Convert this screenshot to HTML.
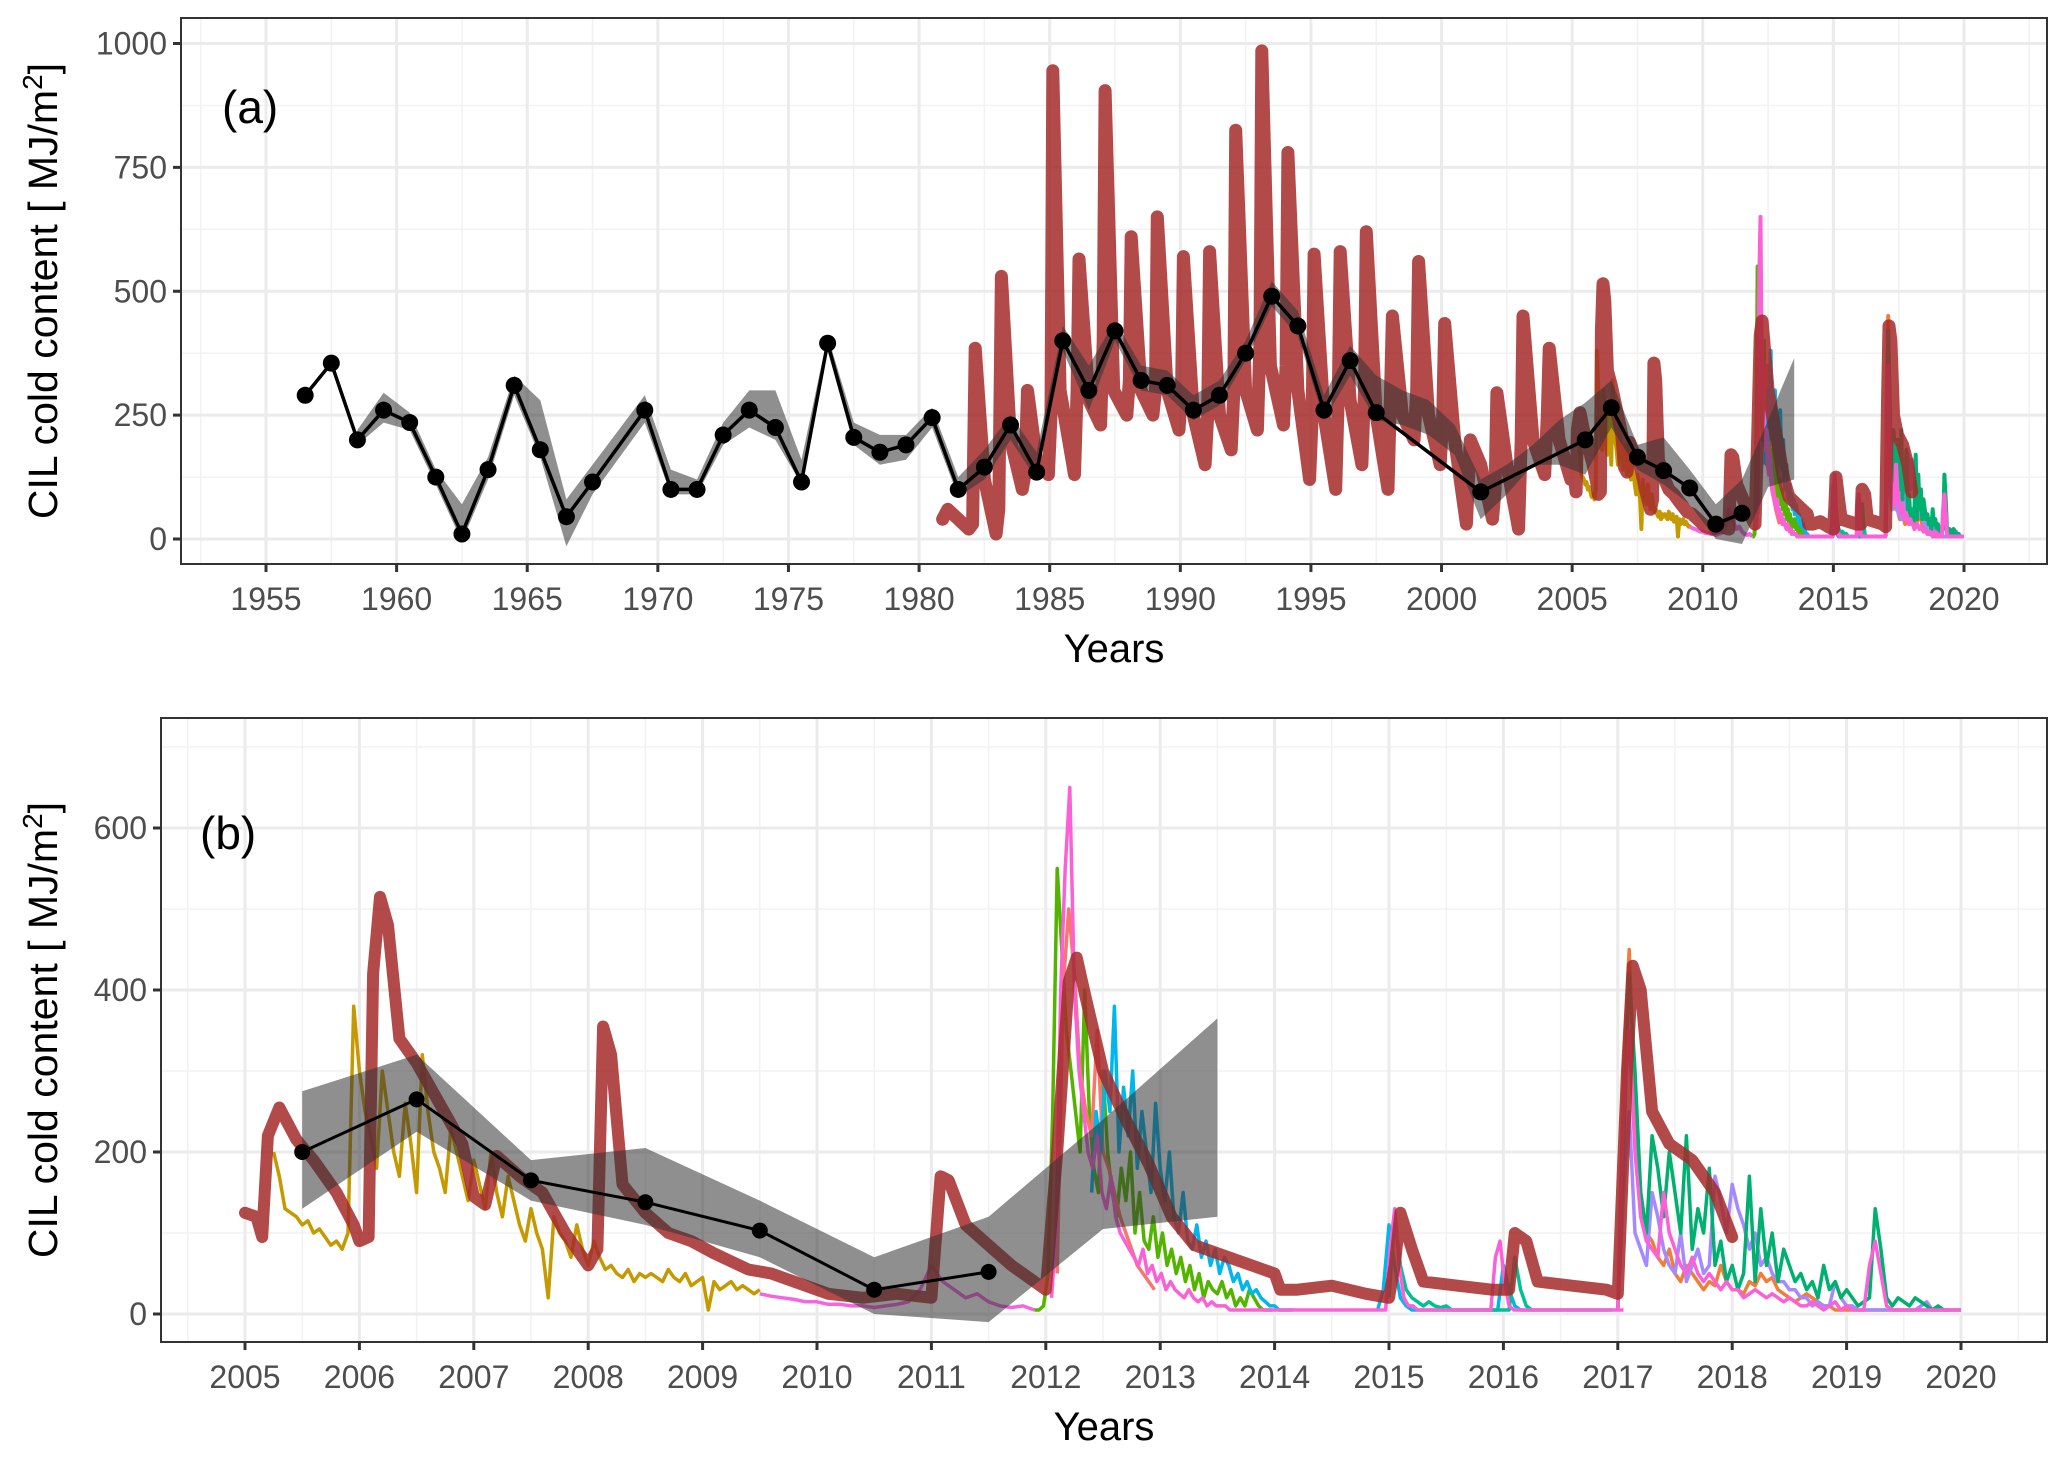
<!DOCTYPE html>
<html><head><meta charset="utf-8"><style>
html,body{margin:0;padding:0;background:#fff;}
svg{display:block;font-family:"Liberation Sans",sans-serif;}
</style></head><body>
<svg id="chart" width="2067" height="1460" viewBox="0 0 2067 1460" xmlns="http://www.w3.org/2000/svg">
<defs>
<clipPath id="clipA"><rect x="181" y="18" width="1866" height="546"/></clipPath>
<clipPath id="clipB"><rect x="161" y="718" width="1886" height="624"/></clipPath>
</defs>
<g id="panelA"></g>
<g id="panelB"></g>
</svg>
<script>
// ---------- DATA ----------
const blackYears = [1956.5,1957.5,1958.5,1959.5,1960.5,1961.5,1962.5,1963.5,1964.5,1965.5,1966.5,1967.5,1969.5,1970.5,1971.5,1972.5,1973.5,1974.5,1975.5,1976.5,1977.5,1978.5,1979.5,1980.5,1981.5,1982.5,1983.5,1984.5,1985.5,1986.5,1987.5,1988.5,1989.5,1990.5,1991.5,1992.5,1993.5,1994.5,1995.5,1996.5,1997.5,2001.5,2005.5,2006.5,2007.5,2008.5,2009.5,2010.5,2011.5];
const blackValues = [290,355,200,260,235,125,10,140,310,180,45,115,260,100,100,210,260,225,115,395,205,175,190,245,100,145,230,135,400,300,420,320,310,260,290,375,490,430,260,360,255,95,200,265,165,138,103,30,52];
const ribYears = [1958.5,1959.5,1960.5,1961.5,1962.5,1963.5,1964.5,1965.5,1966.5,1967.5,1969.5,1970.5,1971.5,1972.5,1973.5,1974.5,1975.5,1976.5,1977.5,1978.5,1979.5,1980.5,1981.5,1982.5,1983.5,1984.5,1985.5,1986.5,1987.5,1988.5,1989.5,1990.5,1991.5,1992.5,1993.5,1994.5,1995.5,1996.5,1997.5,1998.5,1999.5,2000.5,2001.5,2002.5,2003.5,2004.5,2005.5,2006.5,2007.5,2008.5,2009.5,2010.5,2011.5,2012.5,2013.5];
const ribLo = [190,235,220,110,-5,120,290,165,-15,90,235,90,90,190,225,200,110,380,190,150,160,225,85,120,200,120,380,260,400,300,290,240,270,360,470,410,240,330,240,230,210,170,40,90,150,150,130,225,140,110,70,0,-10,105,120];
const ribHi = [220,295,255,140,70,165,330,280,80,150,290,140,120,235,300,300,160,410,235,210,210,265,125,180,250,175,430,350,440,350,340,290,320,400,520,460,290,390,330,300,280,230,120,150,190,240,275,320,190,205,140,70,120,240,365];
const redT = [1980.9,1981.1,1981.5,1981.9,1982.05,1982.15,1982.5,1982.95,1983.05,1983.15,1983.5,1983.95,1984.05,1984.15,1984.5,1984.95,1985.05,1985.12,1985.4,1985.95,1986.05,1986.12,1986.5,1986.95,1987.05,1987.12,1987.45,1987.95,1988.05,1988.12,1988.5,1988.95,1989.05,1989.12,1989.5,1989.95,1990.05,1990.12,1990.5,1990.95,1991.05,1991.12,1991.5,1991.95,1992.05,1992.12,1992.5,1992.95,1993.05,1993.12,1993.45,1993.95,1994.05,1994.12,1994.5,1994.95,1995.05,1995.12,1995.5,1995.95,1996.05,1996.12,1996.5,1996.95,1997.05,1997.12,1997.5,1997.95,1998.05,1998.12,1998.5,1998.95,1999.05,1999.12,1999.5,1999.95,2000.05,2000.12,2000.5,2000.95,2001.1,2001.5,2001.95,2002.05,2002.12,2002.5,2002.95,2003.05,2003.12,2003.5,2003.95,2004.05,2004.12,2004.5,2004.95,
2005.0,2005.1,2005.15,2005.2,2005.3,2005.45,2005.6,2005.8,2005.95,2006.0,2006.08,2006.12,2006.18,2006.25,2006.35,2006.5,2006.7,2006.9,2007.0,2007.1,2007.2,2007.4,2007.6,2007.8,2008.0,2008.08,2008.13,2008.2,2008.3,2008.5,2008.7,2008.9,2009.1,2009.4,2009.6,2009.9,2010.1,2010.4,2010.7,2011.0,2011.08,2011.15,2011.3,2011.5,2011.7,2011.9,2012.0,2012.1,2012.2,2012.27,2012.35,2012.5,2012.7,2012.9,2013.1,2013.3,2013.6,2013.8,2014.0,2014.05,2014.2,2014.5,2014.8,2015.0,2015.05,2015.1,2015.2,2015.3,2015.6,2015.9,2016.05,2016.1,2016.2,2016.3,2016.6,2016.9,2017.0,2017.08,2017.13,2017.2,2017.3,2017.45,2017.65,2017.85,2018.0];
const redV = [40,60,40,20,30,385,120,10,60,530,200,100,130,300,160,130,250,945,300,130,300,565,280,230,400,905,300,250,320,610,300,250,300,650,300,220,300,570,250,150,250,580,250,180,300,825,300,220,400,985,350,230,350,780,300,120,250,575,250,100,300,580,280,150,300,620,250,100,300,450,250,200,300,560,250,150,250,435,200,30,200,150,40,100,295,150,20,200,450,200,130,250,385,200,120,
125,120,95,220,255,215,190,150,110,90,95,420,515,480,340,310,260,210,145,135,195,170,150,100,60,80,355,320,160,125,100,90,75,55,50,35,25,20,25,20,170,165,110,85,60,40,30,200,410,440,390,300,240,185,120,85,70,60,50,30,30,35,25,20,60,125,80,40,35,30,30,100,90,40,35,30,25,300,430,400,250,210,190,150,95];

const goldStart = 2005.25, goldStep = 0.05;
const goldVals = [200,170,130,125,120,110,115,100,105,95,85,90,80,100,380,300,250,220,180,300,250,200,170,260,210,150,320,250,200,180,150,230,200,170,140,190,160,130,200,150,120,170,140,110,90,130,100,80,20,120,100,90,70,110,80,60,90,70,55,60,50,45,55,40,50,45,50,45,40,55,45,40,50,35,40,45,5,40,30,35,40,30,35,30,25,30];
const pinkAStart = 2009.5, pinkAStep = 0.1;
const pinkAVals = [25,22,20,18,15,15,12,12,10,10,8,10,12,15,30,60,40,30,20,25,15,10,8,10,5];
const oliveStart = 2011.9, oliveStep = 0.04;
const oliveVals = [5,5,10,50,250,550,450,350,300,250,200,400,250,180,150,300,200,150,120,180,140,200,100,150,90,80,120,70,100,60,80,50,70,40,60,30,50,20,40,30,25,40,20,30,10,20,10,30,20,10,5,5,5];
const orangeAStart = 2012.1, orangeAStep = 0.05;
const orangeAVals = [50,400,500,420,300,250,220,350,200,180,150,120,100,80,60,50,40,30];
const blueStart = 2012.4, blueStep = 0.04;
const blueVals = [150,250,200,300,250,380,200,280,220,300,180,250,200,150,260,180,140,200,120,100,150,90,80,110,70,90,60,80,50,70,60,40,50,30,40,25,30,20,15,10,10,5,5,5,5];
const blueBStart = 2014.9, blueBStep = 0.05;
const blueBVals = [5,30,110,60,20,10,5,5,5,5,5,5,5,5,5,5,5,5,5,5,5,5,60,30,10,5,5,5];
const pinkBStart = 2012.05, pinkBStep = 0.04;
const pinkBVals = [20,100,400,550,650,400,300,250,200,180,220,150,130,170,120,100,90,80,70,60,80,50,60,40,50,30,40,30,25,20,30,20,15,20,10,15,10,10,10,5,5,5,5,5,5,5,5,5,5,5,5,5,5,5,5,5,5,5,5,5,5,5,5,5,5,5,5,5,5,5,5,5,5,5,80,130,60,20,10,10,5,5,5,5,5,5,5,5,5,5,5,5,5,5,5,5,5,70,90,40,10,5,5,5,5,5,5,5,5,5,5,5,5,5,5,5,5,5,5,5,5,5,5,5,5,5];
const pinkCStart = 2017.0, pinkCStep = 0.05;
const pinkCVals = [5,250,350,200,120,90,80,70,150,100,80,60,50,70,50,40,50,40,30,40,30,30,20,25,30,25,20,25,20,15,20,15,10,10,15,10,5,10,15,5,10,5,5,5,60,90,50,10,5,5,5,5,5,5,5,5,5,5,5,5,5];
const tealStart = 2015.0, tealStep = 0.05;
const tealVals = [20,120,60,30,20,15,10,15,10,8,10,5,5,5,5,5,5,5,5,5,5,5,70,30,10,5,5,5,5,5,5,5,5,5,5,5,5,5,5,5];
const greenStart = 2017.0, greenStep = 0.05;
const greenVals = [5,200,420,300,150,100,220,180,120,200,150,100,220,80,130,100,180,60,90,40,60,30,50,170,40,130,60,100,40,80,60,40,50,30,40,20,60,30,40,20,30,20,10,15,20,130,80,20,10,20,15,10,20,15,10,5,10,5,5,5,5];
const purpleStart = 2017.0, purpleStep = 0.05;
const purpleVals = [5,150,250,100,80,60,150,120,80,60,50,100,40,60,80,50,60,170,140,100,160,130,110,80,100,60,70,50,40,40,30,30,20,20,10,15,10,10,40,20,10,10,5,5,5,5,5,5,5,5,5,5,5,10,15,5,5,5];
const orangeBStart = 2017.0, orangeBStep = 0.05;
const orangeBVals = [5,300,450,250,150,100,90,70,60,80,50,40,60,50,40,30,40,35,60,40,30,30,25,40,35,50,40,45,30,25,20,15,20,25,20,15,10,10,5,5,5,5,5,5,5,5,5,5,5,5,5,5,5,5,5,5,5,5,5];

const ticksXA = [1955,1960,1965,1970,1975,1980,1985,1990,1995,2000,2005,2010,2015,2020];
const ticksYA = [0,250,500,750,1000];
const ticksXB = [2005,2006,2007,2008,2009,2010,2011,2012,2013,2014,2015,2016,2017,2018,2019,2020];
const ticksYB = [0,200,400,600];

// ---------- SCALES ----------
const NS = "http://www.w3.org/2000/svg";
const A = {l:181,r:2047,t:18,b:564, x0:1955,px0:266,x1:2020,px1:1964, y0:0,py0:539,y1:1000,py1:43.5, tmin:1900, clip:"url(#clipA)", g:document.getElementById('panelA'), redW:13, obsW:4, pt:8.5, blackW:3.5};
const B = {l:161,r:2047,t:718,b:1342, x0:2005,px0:245,x1:2020,px1:1961, y0:0,py0:1314,y1:600,py1:828, tmin:2005, clip:"url(#clipB)", g:document.getElementById('panelB'), redW:12, obsW:3.5, pt:8, blackW:3};
function sx(P,v){return P.px0+(v-P.x0)*(P.px1-P.px0)/(P.x1-P.x0);}
function sy(P,v){return P.py0+(v-P.y0)*(P.py1-P.py0)/(P.y1-P.y0);}
function mk(tag,attrs,parent){const e=document.createElementNS(NS,tag);for(const k in attrs)e.setAttribute(k,attrs[k]);parent.appendChild(e);return e;}
function pathFrom(P,ts,vs){let d='',first=true;ts.forEach((t,i)=>{if(t<P.tmin)return;d+=(first?'M':'L')+sx(P,t).toFixed(1)+','+sy(P,vs[i]).toFixed(1);first=false;});return d;}
function seqTimes(start,step,n){const a=[];for(let i=0;i<n;i++)a.push(start+i*step);return a;}

const obsSeries = [
 ['series-gold','#C49A00',goldStart,goldStep,goldVals],
 ['series-pink-early','#F564E3',pinkAStart,pinkAStep,pinkAVals],
 ['series-olive','#53B400',oliveStart,oliveStep,oliveVals],
 ['series-orange-2012','#F8766D',orangeAStart,orangeAStep,orangeAVals],
 ['series-blue','#00B6EB',blueStart,blueStep,blueVals],
 ['series-blue-late','#00B6EB',blueBStart,blueBStep,blueBVals],
 ['series-orange-late','#F07D3A',orangeBStart,orangeBStep,orangeBVals],
 ['series-purple','#A58AFF',purpleStart,purpleStep,purpleVals],
 ['series-green','#00B070',greenStart,greenStep,greenVals],
 ['series-teal','#00C094',tealStart,tealStep,tealVals],
 ['series-pink','#FB61D7',pinkBStart,pinkBStep,pinkBVals],
 ['series-pink-late','#FB61D7',pinkCStart,pinkCStep,pinkCVals]
];

function drawPanel(P,ticksX,ticksY,minorX,minorY,label,labelX,labelY){
  const g=P.g;
  mk('rect',{x:P.l,y:P.t,width:P.r-P.l,height:P.b-P.t,fill:'#fff'},g);
  const grid=mk('g',{},g);
  
  
  minorX.forEach(v=>mk('line',{x1:sx(P,v),x2:sx(P,v),y1:P.t,y2:P.b,stroke:'#f2f2f2','stroke-width':1.5},grid));
  minorY.forEach(v=>mk('line',{x1:P.l,x2:P.r,y1:sy(P,v),y2:sy(P,v),stroke:'#f2f2f2','stroke-width':1.5},grid));
  ticksX.forEach(v=>mk('line',{x1:sx(P,v),x2:sx(P,v),y1:P.t,y2:P.b,stroke:'#ebebeb','stroke-width':3},grid));
  ticksY.forEach(v=>mk('line',{x1:P.l,x2:P.r,y1:sy(P,v),y2:sy(P,v),stroke:'#ebebeb','stroke-width':3},grid));
  const data=mk('g',{'clip-path':P.clip},g);
  obsSeries.forEach(s=>{
    const ts=seqTimes(s[2],s[3],s[4].length);
    const p=mk('path',{d:pathFrom(P,ts,s[4]),fill:'none',stroke:s[1],'stroke-width':P.obsW,'stroke-linejoin':'round'},data);
    
    
  });
  const red=mk('path',{d:pathFrom(P,redT,redV),fill:'none',stroke:'#a52a2a','stroke-opacity':0.85,'stroke-width':P.redW,'stroke-linejoin':'round','stroke-linecap':'round'},data);
  
  
  const up=[],lo=[];
  ribYears.forEach((t,i)=>{if(t<P.tmin)return;up.push(sx(P,t).toFixed(1)+','+sy(P,ribHi[i]).toFixed(1));lo.push(sx(P,t).toFixed(1)+','+sy(P,ribLo[i]).toFixed(1));});
  const rib=mk('polygon',{points:up.concat(lo.reverse()).join(' '),fill:'#333','fill-opacity':0.55},data);
  
  
  const bl=mk('path',{d:pathFrom(P,blackYears,blackValues),fill:'none',stroke:'#000','stroke-width':P.blackW},data);
  
  
  blackYears.forEach((t,i)=>{
    if(t<P.tmin)return;
    const c=mk('circle',{cx:sx(P,t),cy:sy(P,blackValues[i]),r:P.pt,fill:'#000'},data);
    
    
  });
  mk('rect',{x:P.l,y:P.t,width:P.r-P.l,height:P.b-P.t,fill:'none',stroke:'#333','stroke-width':2},g);
  ticksX.forEach(v=>{
    mk('line',{x1:sx(P,v),x2:sx(P,v),y1:P.b,y2:P.b+8,stroke:'#333','stroke-width':3},g);
    const t=mk('text',{x:sx(P,v),y:P.b+46,'text-anchor':'middle','font-size':32,fill:'#4d4d4d'},g);
    t.textContent=v;
    
    
  });
  ticksY.forEach(v=>{
    mk('line',{x1:P.l-8,x2:P.l,y1:sy(P,v),y2:sy(P,v),stroke:'#333','stroke-width':3},g);
    const t=mk('text',{x:P.l-14,y:sy(P,v)+11,'text-anchor':'end','font-size':32,fill:'#4d4d4d'},g);
    t.textContent=v;
    
    
  });
  const xt=mk('text',{x:(P.l+P.r)/2,y:P.b+98,'text-anchor':'middle','font-size':40,fill:'#000'},g);
  xt.textContent='Years';
  
  
  const cy=(P.t+P.b)/2;
  const yt=mk('text',{x:0,y:0,transform:`translate(57,${cy}) rotate(-90)`,'text-anchor':'middle','font-size':41,fill:'#000'},g);
  
  
  yt.innerHTML='CIL cold content  [ MJ/m<tspan font-size="28" dy="-15">2</tspan><tspan dy="15">]</tspan>';
  const pl=mk('text',{x:labelX,y:labelY,'font-size':46,fill:'#000'},g);
  pl.textContent=label;
  
  
}
const minorXA=[1952.5,1957.5,1962.5,1967.5,1972.5,1977.5,1982.5,1987.5,1992.5,1997.5,2002.5,2007.5,2012.5,2017.5,2022.5];
const minorYA=[125,375,625,875];
const minorXB=[2004.5,2005.5,2006.5,2007.5,2008.5,2009.5,2010.5,2011.5,2012.5,2013.5,2014.5,2015.5,2016.5,2017.5,2018.5,2019.5,2020.5];
const minorYB=[100,300,500,700];
drawPanel(A,ticksXA,ticksYA,minorXA,minorYA,'(a)',222,123);
drawPanel(B,ticksXB,ticksYB,minorXB,minorYB,'(b)',200,849);
</script>
</body></html>
